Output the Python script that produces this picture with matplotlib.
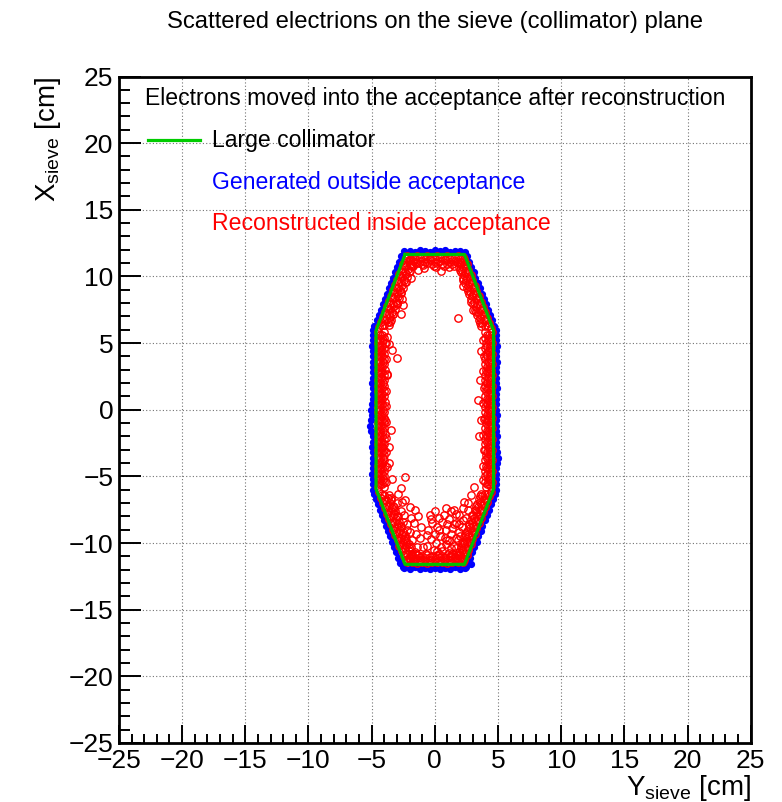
import numpy as np
import matplotlib
matplotlib.use("Agg")
from matplotlib import pyplot as plt
from matplotlib.ticker import MultipleLocator
from matplotlib.lines import Line2D

plt.rcParams["font.family"] = ["Liberation Sans", "DejaVu Sans"]

# Large collimator outline (Y_sieve, X_sieve) in cm
coll_y = [-2.35, 2.35, 4.65, 4.65, 2.35, -2.35, -4.65, -4.65, -2.35]
coll_x = [11.65, 11.65, 5.95, -5.95, -11.6, -11.6, -5.95, 5.95, 11.65]

# Reconstructed positions inside the acceptance, (Y, X) pairs in cm
red_top = [
    (-2.2, 11.52), (-1.8, 11.45), (-1.4, 11.55), (-1.0, 11.48), (-0.6, 11.5), (-0.2, 11.43),
    (0.2, 11.55), (0.6, 11.47), (1.0, 11.52), (1.4, 11.44), (1.8, 11.5), (2.2, 11.48),
    (-2.0, 11.33), (-1.6, 11.3), (-1.2, 11.36), (-0.8, 11.31), (-0.4, 11.34), (0.0, 11.3),
    (0.4, 11.35), (0.8, 11.32), (1.2, 11.3), (1.6, 11.35), (2.0, 11.31),
    (-2.0, 11.2), (-1.6, 11.1), (-1.2, 11.18), (-0.8, 11.12), (-0.4, 11.2), (0.0, 11.08),
    (0.4, 11.15), (0.8, 11.22), (1.2, 11.1), (1.6, 11.17), (2.0, 11.12),
    (-1.8, 10.95), (-1.4, 11.0), (-1.0, 10.93), (-0.6, 10.98), (-0.2, 10.95), (0.2, 11.0),
    (0.6, 10.94), (1.0, 10.97), (1.4, 10.93), (1.8, 10.98),
    (-1.7, 10.8), (-0.9, 10.85), (-0.1, 10.75), (0.7, 10.82), (1.5, 10.8),
    (-0.87, 10.6), (0.08, 10.7), (1.16, 10.7), (-1.3, 10.45), (0.5, 10.4),
]
red_upper_right = [
    (2.34, 11.3), (2.52, 10.9), (2.66, 10.5), (2.85, 10.1), (2.97, 9.7), (3.17, 9.3), (3.30, 8.9),
    (3.49, 8.5), (3.63, 8.1), (3.82, 7.7), (3.95, 7.3), (4.14, 6.9), (4.28, 6.5), (4.45, 6.15),
    (2.27, 11.1), (2.44, 10.7), (2.6, 10.3), (2.76, 9.9), (2.93, 9.5), (3.09, 9.1), (3.25, 8.7),
    (3.41, 8.3), (3.58, 7.9), (3.74, 7.5), (3.9, 7.1), (4.06, 6.7), (4.23, 6.3),
    (2.05, 11.1), (2.26, 10.7), (2.38, 10.3), (2.58, 9.9), (2.71, 9.5), (2.92, 9.1), (3.03, 8.7),
    (3.24, 8.3), (3.36, 7.9), (3.56, 7.5), (3.68, 7.1), (3.88, 6.7), (4.0, 6.3),
    (1.98, 10.9), (2.14, 10.5), (2.3, 10.1), (2.46, 9.7), (2.63, 9.3), (2.79, 8.9), (2.95, 8.5),
    (3.11, 8.1), (3.28, 7.7), (3.44, 7.3), (3.6, 6.9), (3.77, 6.5),
    (1.72, 11.1), (1.89, 10.7), (2.05, 10.3), (2.21, 9.9), (2.38, 9.5), (2.54, 9.1), (2.7, 8.7),
    (2.86, 8.3), (3.03, 7.9), (3.19, 7.5), (3.35, 7.1), (3.51, 6.7), (3.68, 6.3),
    (1.97, 10.5), (2.24, 9.7), (2.62, 8.9), (2.89, 8.1), (3.27, 7.3), (3.55, 6.5),
    (2.2, 9.3), (3.0, 7.5), (1.84, 6.88),
]
red_right = [
    (4.5, 5.8), (4.45, 5.4), (4.52, 5.0), (4.47, 4.6), (4.5, 4.2), (4.43, 3.8), (4.52, 3.4),
    (4.48, 3.0), (4.5, 2.6), (4.44, 2.2), (4.53, 1.8), (4.47, 1.4), (4.5, 1.0), (4.45, 0.6),
    (4.52, 0.2), (4.48, -0.2), (4.5, -0.6), (4.43, -1.0), (4.52, -1.4), (4.47, -1.8),
    (4.5, -2.2), (4.45, -2.6), (4.53, -3.0), (4.48, -3.4), (4.5, -3.8), (4.44, -4.2),
    (4.52, -4.6), (4.47, -5.0), (4.5, -5.4), (4.46, -5.8),
    (4.32, 5.6), (4.3, 5.2), (4.35, 4.8), (4.31, 4.4), (4.33, 4.0), (4.3, 3.6), (4.35, 3.2),
    (4.32, 2.8), (4.3, 2.4), (4.34, 2.0), (4.31, 1.6), (4.35, 1.2), (4.3, 0.8), (4.33, 0.4),
    (4.32, 0.0), (4.35, -0.4), (4.3, -0.8), (4.33, -1.2), (4.31, -1.6), (4.35, -2.0),
    (4.32, -2.4), (4.3, -2.8), (4.34, -3.2), (4.31, -3.6), (4.35, -4.0), (4.3, -4.4),
    (4.33, -4.8), (4.32, -5.2), (4.3, -5.6),
    (4.15, 5.6), (4.2, 5.2), (4.12, 4.8), (4.18, 4.4), (4.14, 4.0), (4.2, 3.6), (4.16, 3.2),
    (4.12, 2.8), (4.19, 2.4), (4.15, 2.0), (4.13, 1.6), (4.2, 1.2), (4.16, 0.8), (4.14, 0.4),
    (4.18, 0.0), (4.12, -0.4), (4.17, -0.8), (4.2, -1.2), (4.14, -1.6), (4.16, -2.0),
    (4.12, -2.4), (4.19, -2.8), (4.15, -3.2), (4.13, -3.6), (4.18, -4.0), (4.16, -4.4),
    (4.12, -4.8), (4.2, -5.2), (4.15, -5.6),
    (4.0, 5.8), (3.97, 5.4), (4.03, 5.0), (3.99, 4.6), (4.02, 4.2), (3.97, 3.8), (4.01, 3.4),
    (4.03, 3.0), (3.98, 2.6), (4.0, 2.2), (3.97, 1.8), (4.02, 1.4), (3.99, 1.0), (4.03, 0.6),
    (3.98, 0.2), (4.0, -0.2), (3.97, -0.6), (4.02, -1.0), (3.99, -1.4), (4.03, -1.8),
    (3.98, -2.2), (4.0, -2.6), (3.97, -3.0), (4.02, -3.4), (3.99, -3.8), (4.03, -4.2),
    (3.98, -4.6), (4.0, -5.0), (3.97, -5.4), (4.02, -5.8),
    (3.85, 5.2), (3.9, 4.0), (3.8, 2.9), (3.88, 1.6), (3.83, 0.5), (3.9, -0.7), (3.82, -1.9),
    (3.87, -3.0), (3.8, -4.2), (3.85, -5.3),
    (3.5, -2.0), (3.55, 2.2), (3.45, 0.7), (3.65, 4.4), (3.62, -0.8),
]
red_lower_right = [
    (4.45, -6.15), (4.29, -6.5), (4.14, -6.9), (3.95, -7.3), (3.82, -7.7), (3.63, -8.1),
    (3.49, -8.5), (3.30, -8.9), (3.17, -9.3), (2.97, -9.7), (2.85, -10.1), (2.66, -10.5),
    (2.52, -10.9), (2.34, -11.3),
    (4.23, -6.3), (4.06, -6.7), (3.9, -7.1), (3.74, -7.5), (3.58, -7.9), (3.41, -8.3),
    (3.25, -8.7), (3.09, -9.1), (2.93, -9.5), (2.76, -9.9), (2.6, -10.3), (2.44, -10.7),
    (2.27, -11.1),
    (4.0, -6.3), (3.88, -6.7), (3.68, -7.1), (3.56, -7.5), (3.36, -7.9), (3.24, -8.3),
    (3.03, -8.7), (2.92, -9.1), (2.71, -9.5), (2.58, -9.9), (2.38, -10.3), (2.26, -10.7),
    (2.05, -11.1),
    (3.75, -6.5), (3.58, -6.9), (3.42, -7.3), (3.26, -7.7), (3.09, -8.1), (2.93, -8.5),
    (2.77, -8.9), (2.61, -9.3), (2.44, -9.7), (2.28, -10.1), (2.12, -10.5), (1.96, -10.9),
    (3.68, -6.3), (3.51, -6.7), (3.35, -7.1), (3.19, -7.5), (3.03, -7.9), (2.86, -8.3),
    (2.7, -8.7), (2.54, -9.1), (2.38, -9.5), (2.21, -9.9), (2.05, -10.3), (1.89, -10.7),
    (1.72, -11.1),
    (3.55, -6.5), (3.26, -7.2), (2.98, -7.9), (2.69, -8.6), (2.41, -9.3), (2.12, -10.0),
    (1.89, -10.7),
    (3.09, -5.8), (2.6, -7.5), (1.9, -7.9), (1.5, -7.5), (1.64, -8.5), (1.37, -8.9),
    (1.9, -9.16), (1.1, -9.78), (1.86, -9.78), (2.16, -8.8), (2.3, -6.9),
    (2.9, -6.4), (2.6, -7.0), (2.2, -7.4), (2.5, -8.1), (2.2, -8.3), (1.9, -8.6),
    (2.0, -9.5), (2.3, -9.9), (1.7, -10.4), (1.4, -10.8), (1.2, -11.0), (1.0, -8.6),
    (0.7, -7.9), (0.6, -10.6),
]
red_bottom = [
    (-2.2, -11.45), (-1.8, -11.4), (-1.4, -11.48), (-1.0, -11.42), (-0.6, -11.47), (-0.2, -11.39),
    (0.2, -11.45), (0.6, -11.41), (1.0, -11.48), (1.4, -11.4), (1.8, -11.45), (2.2, -11.42),
    (-2.0, -11.28), (-1.6, -11.25), (-1.2, -11.3), (-0.8, -11.26), (-0.4, -11.29), (0.0, -11.25),
    (0.4, -11.3), (0.8, -11.27), (1.2, -11.25), (1.6, -11.3), (2.0, -11.26),
    (-2.0, -11.1), (-1.6, -11.15), (-1.2, -11.05), (-0.8, -11.13), (-0.4, -11.07), (0.0, -11.15),
    (0.4, -11.05), (0.8, -11.12), (1.2, -11.08), (1.6, -11.15), (2.0, -11.05),
    (-1.8, -10.95), (-1.4, -10.9), (-1.0, -10.97), (-0.6, -10.92), (-0.2, -10.96), (0.2, -10.9),
    (0.6, -10.95), (1.0, -10.92), (1.4, -10.97), (1.8, -10.93),
    (-1.5, -10.8), (-0.7, -10.85), (0.3, -10.8), (1.1, -10.75), (1.8, -10.85),
    (-0.4, -7.9), (0.0, -7.6), (0.3, -8.1), (-0.2, -8.5), (0.2, -8.8), (-0.5, -9.0),
    (0.0, -9.3), (0.4, -9.5), (-0.3, -9.7), (0.1, -10.0), (-0.6, -10.2), (0.5, -10.3),
    (-0.1, -10.5), (0.3, -9.0), (-0.3, -8.2), (0.6, -8.4), (-0.6, -9.4), (0.2, -10.6),
    (0.9, -10.1), (1.3, -10.4), (0.8, -9.6),
    (0.9, -7.4), (1.3, -7.6), (1.7, -7.8), (1.1, -8.2), (1.5, -8.6), (0.9, -9.0),
    (1.3, -9.3), (1.7, -9.6), (1.0, -9.8), (1.5, -10.2),
]
red_lower_left = [
    (-4.43, -6.2), (-4.25, -6.6), (-4.1, -7.0), (-3.92, -7.4), (-3.78, -7.8), (-3.6, -8.2),
    (-3.45, -8.6), (-3.27, -9.0), (-3.13, -9.4), (-2.95, -9.8), (-2.8, -10.2), (-2.62, -10.6),
    (-2.47, -11.0), (-2.3, -11.3),
    (-4.19, -6.4), (-4.03, -6.8), (-3.86, -7.2), (-3.7, -7.6), (-3.54, -8.0), (-3.37, -8.4),
    (-3.21, -8.8), (-3.05, -9.2), (-2.88, -9.6), (-2.72, -10.0), (-2.56, -10.4), (-2.39, -10.8),
    (-2.23, -11.2),
    (-3.98, -6.4), (-3.84, -6.8), (-3.64, -7.2), (-3.5, -7.6), (-3.32, -8.0), (-3.19, -8.4),
    (-2.99, -8.8), (-2.87, -9.2), (-2.67, -9.6), (-2.54, -10.0), (-2.34, -10.4), (-2.2, -10.8),
    (-2.02, -11.15),
    (-3.71, -6.6), (-3.54, -7.0), (-3.38, -7.4), (-3.22, -7.8), (-3.05, -8.2), (-2.89, -8.6),
    (-2.73, -9.0), (-2.57, -9.4), (-2.4, -9.8), (-2.24, -10.2), (-2.08, -10.6), (-1.91, -11.0),
    (-3.64, -6.4), (-3.48, -6.8), (-3.31, -7.2), (-3.15, -7.6), (-2.99, -8.0), (-2.82, -8.4),
    (-2.66, -8.8), (-2.5, -9.2), (-2.33, -9.6), (-2.17, -10.0), (-2.01, -10.4), (-1.84, -10.8),
    (-1.68, -11.2),
    (-3.5, -6.6), (-3.22, -7.3), (-2.94, -8.0), (-2.65, -8.7), (-2.37, -9.4), (-2.07, -10.1),
    (-1.85, -10.8),
    (-3.38, -5.23), (-2.32, -5.08), (-2.71, -5.9), (-2.32, -6.78), (-1.53, -7.53),
    (-1.66, -8.53), (-1.8, -9.78), (-1.4, -10.3), (-2.0, -7.3), (-1.9, -8.1), (-2.2, -9.0),
    (-1.5, -9.3),
    (-2.9, -6.3), (-2.6, -6.9), (-3.0, -7.0), (-2.7, -7.6), (-2.4, -7.9), (-2.5, -8.4),
    (-2.2, -8.6), (-2.0, -9.2), (-2.3, -9.8), (-1.9, -10.3), (-1.6, -10.7), (-1.3, -10.9),
    (-1.2, -9.6), (-1.1, -8.8), (-1.3, -8.0), (-0.9, -10.3),
]
red_left = [
    (-4.5, 5.8), (-4.47, 5.4), (-4.52, 5.0), (-4.45, 4.6), (-4.5, 4.2), (-4.53, 3.8),
    (-4.46, 3.4), (-4.5, 3.0), (-4.44, 2.6), (-4.52, 2.2), (-4.48, 1.8), (-4.5, 1.4),
    (-4.45, 1.0), (-4.53, 0.6), (-4.47, 0.2), (-4.5, -0.2), (-4.44, -0.6), (-4.52, -1.0),
    (-4.48, -1.4), (-4.5, -1.8), (-4.46, -2.2), (-4.53, -2.6), (-4.47, -3.0), (-4.5, -3.4),
    (-4.44, -3.8), (-4.52, -4.2), (-4.48, -4.6), (-4.5, -5.0), (-4.45, -5.4), (-4.5, -5.8),
    (-4.31, 5.6), (-4.34, 5.2), (-4.3, 4.8), (-4.35, 4.4), (-4.32, 4.0), (-4.3, 3.6),
    (-4.33, 3.2), (-4.35, 2.8), (-4.31, 2.4), (-4.32, 2.0), (-4.3, 1.6), (-4.34, 1.2),
    (-4.32, 0.8), (-4.35, 0.4), (-4.3, 0.0), (-4.33, -0.4), (-4.31, -0.8), (-4.35, -1.2),
    (-4.32, -1.6), (-4.3, -2.0), (-4.34, -2.4), (-4.32, -2.8), (-4.35, -3.2), (-4.3, -3.6),
    (-4.33, -4.0), (-4.31, -4.4), (-4.35, -4.8), (-4.32, -5.2), (-4.3, -5.6),
    (-4.16, 5.6), (-4.12, 5.2), (-4.19, 4.8), (-4.14, 4.4), (-4.2, 4.0), (-4.13, 3.6),
    (-4.17, 3.2), (-4.15, 2.8), (-4.2, 2.4), (-4.12, 2.0), (-4.18, 1.6), (-4.14, 1.2),
    (-4.16, 0.8), (-4.2, 0.4), (-4.13, 0.0), (-4.17, -0.4), (-4.15, -0.8), (-4.19, -1.2),
    (-4.12, -1.6), (-4.18, -2.0), (-4.14, -2.4), (-4.2, -2.8), (-4.16, -3.2), (-4.13, -3.6),
    (-4.18, -4.0), (-4.15, -4.4), (-4.2, -4.8), (-4.12, -5.2), (-4.17, -5.6),
    (-3.99, 5.8), (-4.02, 5.4), (-3.97, 5.0), (-4.0, 4.6), (-4.03, 4.2), (-3.98, 3.8),
    (-4.01, 3.4), (-3.97, 3.0), (-4.02, 2.6), (-3.99, 2.2), (-4.03, 1.8), (-3.98, 1.4),
    (-4.0, 1.0), (-3.97, 0.6), (-4.02, 0.2), (-3.99, -0.2), (-4.03, -0.6), (-3.98, -1.0),
    (-4.0, -1.4), (-3.97, -1.8), (-4.02, -2.2), (-3.99, -2.6), (-4.03, -3.0), (-3.98, -3.4),
    (-4.0, -3.8), (-3.97, -4.2), (-4.02, -4.6), (-3.99, -5.0), (-4.03, -5.4), (-3.98, -5.8),
    (-3.85, 5.0), (-3.9, 3.8), (-3.82, 2.6), (-3.88, 1.4), (-3.85, 0.3), (-3.9, -0.9),
    (-3.83, -2.1), (-3.88, -3.2), (-3.82, -4.3), (-3.87, -5.4),
    (-3.77, 5.46), (-3.03, 3.9), (-3.64, 4.96), (-3.38, 4.46), (-3.77, 2.71), (-3.95, -0.79),
    (-3.64, -2.79), (-3.6, -4.0), (-3.5, -1.5),
]
red_upper_left = [
    (-2.3, 11.35), (-2.5, 10.95), (-2.63, 10.55), (-2.83, 10.15), (-2.96, 9.75), (-3.15, 9.35),
    (-3.29, 8.95), (-3.47, 8.55), (-3.61, 8.15), (-3.8, 7.75), (-3.94, 7.35), (-4.12, 6.95),
    (-4.27, 6.55), (-4.43, 6.2),
    (-2.25, 11.15), (-2.42, 10.75), (-2.58, 10.35), (-2.74, 9.95), (-2.9, 9.55), (-3.07, 9.15),
    (-3.23, 8.75), (-3.39, 8.35), (-3.56, 7.95), (-3.72, 7.55), (-3.88, 7.15), (-4.04, 6.75),
    (-4.21, 6.35),
    (-2.03, 11.15), (-2.24, 10.75), (-2.36, 10.35), (-2.56, 9.95), (-2.68, 9.55), (-2.9, 9.15),
    (-3.01, 8.75), (-3.22, 8.35), (-3.34, 7.95), (-3.54, 7.55), (-3.66, 7.15), (-3.86, 6.75),
    (-3.98, 6.35),
    (-1.93, 10.95), (-2.1, 10.55), (-2.26, 10.15), (-2.42, 9.75), (-2.59, 9.35), (-2.75, 8.95),
    (-2.91, 8.55), (-3.07, 8.15), (-3.24, 7.75), (-3.4, 7.35), (-3.56, 6.95), (-3.73, 6.55),
    (-1.7, 11.15), (-1.87, 10.75), (-2.03, 10.35), (-2.19, 9.95), (-2.35, 9.55), (-2.52, 9.15),
    (-2.68, 8.75), (-2.84, 8.35), (-3.01, 7.95), (-3.17, 7.55), (-3.33, 7.15), (-3.49, 6.75),
    (-3.66, 6.35),
    (-2.0, 10.4), (-2.3, 9.6), (-2.66, 8.8), (-2.96, 8.0), (-3.31, 7.2), (-3.51, 6.6),
    (-2.5, 7.83), (-2.71, 7.21), (-1.9, 9.9), (-2.6, 8.3),
]

# Generated positions outside the acceptance, (Y, X) pairs in cm
blue_top = [
    (-2.4, 11.88), (-2.0, 11.93), (-1.6, 11.85), (-1.2, 11.97), (-0.8, 11.88), (-0.4, 11.84),
    (0.0, 11.95), (0.4, 11.88), (0.8, 11.97), (1.2, 11.86), (1.6, 11.93), (2.0, 11.88),
    (2.4, 11.84),
]
blue_upper_right = [
    (2.58, 11.5), (2.73, 11.1), (2.9, 10.7), (3.08, 10.3), (3.21, 9.9), (3.4, 9.5), (3.54, 9.1),
    (3.73, 8.7), (3.86, 8.3), (4.05, 7.9), (4.2, 7.5), (4.38, 7.1), (4.53, 6.7), (4.71, 6.3),
]
blue_right = [
    (4.85, 6.0), (4.88, 5.6), (4.83, 5.2), (4.9, 4.8), (4.86, 4.4), (4.83, 4.0), (4.89, 3.6),
    (4.85, 3.2), (4.88, 2.8), (4.83, 2.4), (4.87, 2.0), (4.9, 1.6), (4.84, 1.2), (4.88, 0.8),
    (4.83, 0.4), (4.86, 0.0), (4.89, -0.4), (4.85, -0.8), (4.88, -1.2), (4.83, -1.6),
    (4.9, -2.0), (4.86, -2.4), (4.88, -2.8), (4.95, -3.2), (4.98, -3.6), (4.89, -4.0),
    (4.85, -4.4), (4.88, -4.8), (4.83, -5.2), (4.87, -5.6), (4.85, -6.0),
]
blue_lower_right = [
    (4.76, -6.3), (4.61, -6.7), (4.43, -7.1), (4.28, -7.5), (4.1, -7.9), (3.95, -8.3),
    (3.77, -8.7), (3.63, -9.1), (3.45, -9.5), (3.31, -9.9), (3.13, -10.3), (2.98, -10.7),
    (2.8, -11.1), (2.65, -11.5), (2.83, -11.55), (2.45, -11.8),
]
blue_bottom = [
    (-2.4, -11.88), (-2.0, -11.93), (-1.6, -11.83), (-1.2, -11.98), (-0.8, -11.88),
    (-0.4, -11.93), (0.0, -11.85), (0.4, -11.95), (0.8, -11.88), (1.2, -11.93),
    (1.6, -11.83), (2.0, -11.98), (2.4, -11.88),
]
blue_lower_left = [
    (-2.73, -11.5), (-2.88, -11.1), (-3.05, -10.7), (-3.21, -10.3), (-3.38, -9.9),
    (-3.53, -9.5), (-3.71, -9.1), (-3.86, -8.7), (-4.03, -8.3), (-4.19, -7.9), (-4.36, -7.5),
    (-4.51, -7.1), (-4.68, -6.7), (-4.83, -6.3), (-2.55, -11.8),
]
blue_left = [
    (-4.88, 6.0), (-4.91, 5.6), (-4.86, 5.2), (-4.93, 4.8), (-4.89, 4.4), (-4.87, 4.0),
    (-4.92, 3.6), (-4.88, 3.2), (-4.9, 2.8), (-4.86, 2.4), (-4.93, 2.0), (-4.89, 1.6),
    (-4.87, 1.2), (-4.91, 0.8), (-4.95, 0.4), (-5.03, 0.0), (-4.98, -0.4), (-5.08, -0.8),
    (-5.13, -1.2), (-5.03, -1.6), (-4.91, -2.0), (-4.88, -2.4), (-4.93, -2.8), (-4.89, -3.2),
    (-4.86, -3.6), (-4.91, -4.0), (-4.88, -4.4), (-4.93, -4.8), (-4.89, -5.2), (-4.87, -5.6),
    (-4.91, -6.0),
]
blue_upper_left = [
    (-2.66, 11.5), (-2.82, 11.1), (-2.99, 10.7), (-3.15, 10.3), (-3.31, 9.9), (-3.48, 9.5),
    (-3.64, 9.1), (-3.8, 8.7), (-3.96, 8.3), (-4.13, 7.9), (-4.29, 7.5), (-4.45, 7.1),
    (-4.61, 6.7), (-4.78, 6.3),
]

red = np.array(red_top + red_upper_right + red_right + red_lower_right
               + red_bottom + red_lower_left + red_left + red_upper_left)
blue = np.array(blue_top + blue_upper_right + blue_right + blue_lower_right
                + blue_bottom + blue_lower_left + blue_left + blue_upper_left)

fig = plt.figure(figsize=(7.82, 8.02), dpi=100)
ax = fig.add_axes([0.152, 0.0736, 0.808, 0.831])

ax.plot(blue[:, 0], blue[:, 1], linestyle="none", marker="o", ms=4.2,
        color="#0000ff", mec="#0000ff", zorder=3)
ax.plot(red[:, 0], red[:, 1], linestyle="none", marker="o", ms=5.3,
        mfc="none", mec="#ff0000", mew=1.0, zorder=4)
ax.plot(coll_y, coll_x, color="#00c000", lw=2.3, zorder=5)

ax.set_xlim(-25, 25)
ax.set_ylim(-25, 25)
ax.xaxis.set_major_locator(MultipleLocator(5))
ax.yaxis.set_major_locator(MultipleLocator(5))
ax.xaxis.set_minor_locator(MultipleLocator(1))
ax.yaxis.set_minor_locator(MultipleLocator(1))

ax.grid(True, which="major", linestyle=(0, (1, 2)), color="0.45", lw=0.8, zorder=0)
ax.set_axisbelow(True)

ax.tick_params(axis="both", which="both", direction="in", top=False, right=False,
               labelsize=19, width=1.4)
ax.tick_params(axis="x", which="major", length=13, pad=4)
ax.tick_params(axis="x", which="minor", length=6.5)
ax.tick_params(axis="y", which="major", length=16, pad=4)
ax.tick_params(axis="y", which="minor", length=8)
for spine in ax.spines.values():
    spine.set_linewidth(2.0)

ax.set_xlabel(r"$\mathregular{Y_{sieve}}$ [cm]", fontsize=20, loc="right", labelpad=0)
ax.set_ylabel(r"$\mathregular{X_{sieve}}$ [cm]", fontsize=20, loc="top", labelpad=4)

fig.text(0.556, 0.972, "Scattered electrions on the sieve (collimator) plane",
         ha="center", va="center", fontsize=17.2)

# legend block drawn by hand, ROOT style
ax.text(0.041, 0.967, "Electrons moved into the acceptance after reconstruction",
        transform=ax.transAxes, ha="left", va="center", fontsize=16.6)
ax.add_line(Line2D([0.046, 0.128], [0.904, 0.904], transform=ax.transAxes,
                   color="#00cc00", lw=2.3, zorder=6))
ax.text(0.147, 0.904, "Large collimator", transform=ax.transAxes,
        ha="left", va="center", fontsize=16.6)
ax.text(0.147, 0.841, "Generated outside acceptance", transform=ax.transAxes,
        ha="left", va="center", fontsize=16.6, color="#0000ff")
ax.text(0.147, 0.780, "Reconstructed inside acceptance", transform=ax.transAxes,
        ha="left", va="center", fontsize=16.6, color="#ff0000")

fig.savefig("out.png", dpi=100)
